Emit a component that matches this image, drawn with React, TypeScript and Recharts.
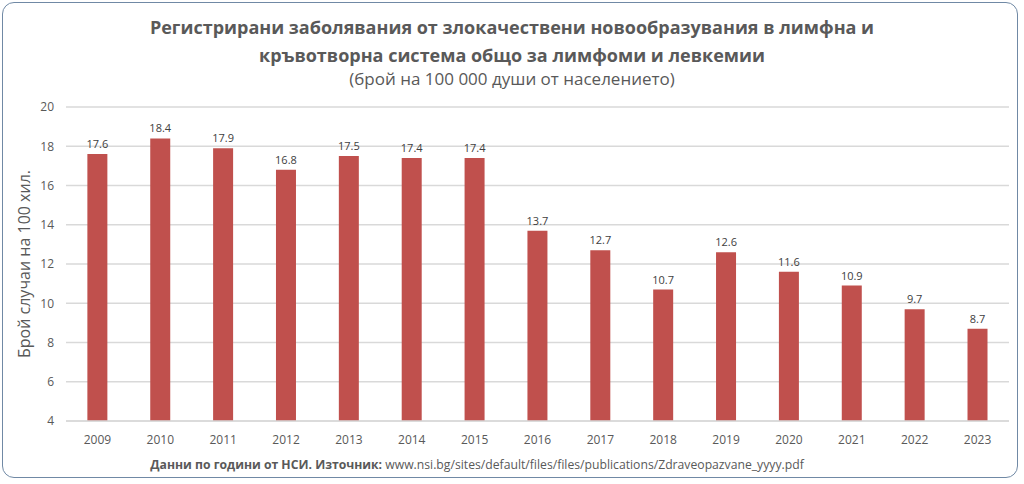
import React from "react";
import { BarChart, Bar, XAxis, YAxis, CartesianGrid, LabelList } from "recharts";

const years = ["2009", "2010", "2011", "2012", "2013", "2014", "2015", "2016", "2017", "2018", "2019", "2020", "2021", "2022", "2023"];
const rates = [17.6, 18.4, 17.9, 16.8, 17.5, 17.4, 17.4, 13.7, 12.7, 10.7, 12.6, 11.6, 10.9, 9.7, 8.7];
const yTicks = [4, 6, 8, 10, 12, 14, 16, 18, 20];

const data = years.map((year, i) => ({ year, value: rates[i] }));

const font = "'Open Sans', sans-serif";
const textGray = "#595959";

export default function App() {
  return (
    <div
      style={{
        position: "absolute",
        left: 0,
        top: 0,
        width: 1024,
        height: 484,
        background: "#fff",
        fontFamily: font,
      }}
    >
      <div
        style={{
          position: "absolute",
          left: 2,
          top: 2,
          width: 1016,
          height: 476,
          border: "1.5px solid #7089a5",
          borderRadius: 12,
          boxSizing: "border-box",
        }}
      />
      <div
        style={{
          position: "absolute",
          left: 0,
          top: 13,
          width: 1024,
          textAlign: "center",
          color: textGray,
          fontWeight: "bold",
          fontSize: 18,
          lineHeight: "28px",
        }}
      >
        Регистрирани заболявания от злокачествени новообразувания в лимфна и
        <br />
        кръвотворна система общо за лимфоми и левкемии
      </div>
      <div
        style={{
          position: "absolute",
          left: 0,
          top: 67,
          width: 1024,
          textAlign: "center",
          color: textGray,
          fontSize: 17,
        }}
      >
        (брой на 100 000 души от населението)
      </div>
      <div style={{ position: "absolute", left: 0, top: 0 }}>
        <BarChart
          width={1024}
          height={484}
          data={data}
          margin={{ top: 107, right: 15, bottom: 33, left: 36 }}
          barCategoryGap="34%"
        >
          <CartesianGrid vertical={false} stroke="#d9d9d9" strokeWidth={1.5} />
          <XAxis
            dataKey="year"
            height={30}
            tickLine={false}
            axisLine={{ stroke: "#d9d9d9", strokeWidth: 1.5 }}
            tick={{ fill: textGray, fontSize: 12, fontFamily: font }}
            tickMargin={8}
          />
          <YAxis
            domain={[4, 20]}
            ticks={yTicks}
            width={30}
            tickLine={false}
            axisLine={false}
            tick={{ fill: textGray, fontSize: 12, fontFamily: font }}
            tickMargin={6}
            label={{
              value: "Брой случаи на 100 хил.",
              angle: -90,
              position: "insideLeft",
              dx: -17,
              dy: 0,
              style: { textAnchor: "middle", fill: textGray, fontSize: 16, fontFamily: font },
            }}
          />
          <Bar dataKey="value" fill="#c0504d" isAnimationActive={false}>
            <LabelList
              dataKey="value"
              position="top"
              offset={6}
              style={{ fill: "#404040", fontSize: 11, fontFamily: font }}
            />
          </Bar>
        </BarChart>
      </div>
      <div
        style={{
          position: "absolute",
          left: 0,
          top: 456,
          width: 954,
          textAlign: "center",
          color: textGray,
          fontSize: 12.2,
        }}
      >
        <b>Данни по години от НСИ. Източник:</b> www.nsi.bg/sites/default/files/files/publications/Zdraveopazvane_yyyy.pdf
      </div>
    </div>
  );
}
